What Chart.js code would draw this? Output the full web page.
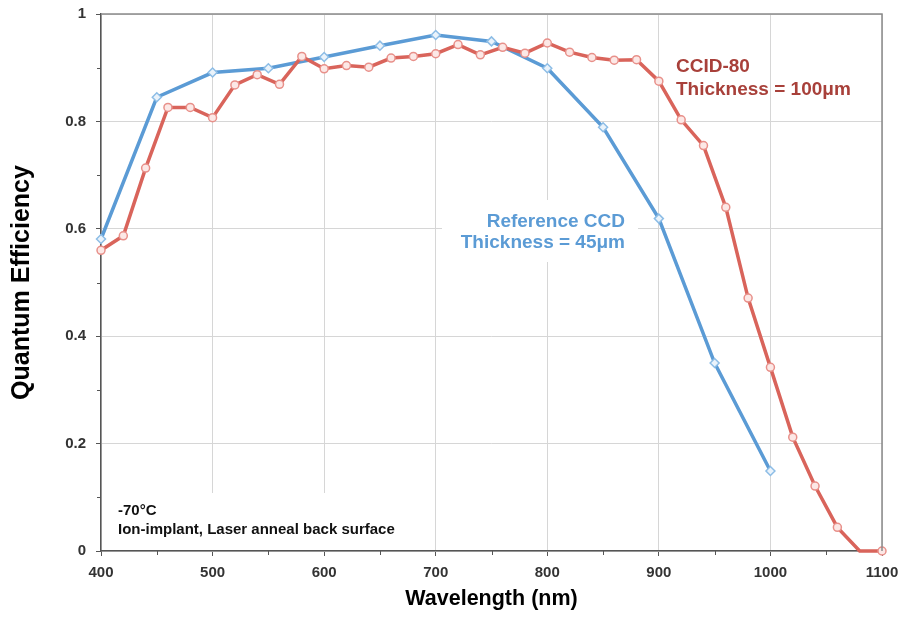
<!DOCTYPE html>
<html lang="en">
<head>
<meta charset="UTF-8">
<title>Quantum Efficiency</title>
<script src="https://cdn.jsdelivr.net/npm/chart.js@4.4.1/dist/chart.umd.min.js"></script>
<style>
  html, body { margin: 0; padding: 0; background: #fff; }
</style>
</head>
<body>
<canvas id="chart" width="901" height="619"></canvas>
<script>
// wavelengths (nm) and quantum efficiency
const refWavelength = [400, 450, 500, 550, 600, 650, 700, 750, 800, 850, 900, 950, 1000]
const refQE = [0.581, 0.845, 0.891, 0.899, 0.920, 0.941, 0.961, 0.949, 0.899, 0.789, 0.619, 0.350, 0.149]

const ccidWavelength = [400, 420, 440, 460, 480, 500, 520, 540, 560, 580, 600, 620, 640, 660, 680, 700,
  720, 740, 760, 780, 800, 820, 840, 860, 880, 900, 920, 940, 960, 980, 1000, 1020, 1040, 1060, 1080, 1100]
const ccidQE = [0.560, 0.587, 0.713, 0.826, 0.826, 0.807, 0.868, 0.887, 0.869, 0.921, 0.898, 0.904, 0.901, 0.918, 0.921, 0.926,
  0.943, 0.924, 0.938, 0.927, 0.946, 0.929, 0.919, 0.914, 0.915, 0.875, 0.803, 0.755, 0.640, 0.471, 0.342, 0.212, 0.121, 0.044, 0, 0]

const xTicks = [400, 500, 600, 700, 800, 900, 1000, 1100]
const yTicks = [0, 0.2, 0.4, 0.6, 0.8, 1]

const BLUE = '#5b9bd5'
const RED = '#d9645b'
const FONT = "'Liberation Sans', Arial, sans-serif"

const toPoints = (xs, ys) => xs.map((x, i) => ({ x: x, y: ys[i] }))

// the 1080 nm point of CCID-80 has no marker in the original
const ccidRadius = ccidWavelength.map(w => w === 1080 ? 0 : 4)

const notes = [
  { lines: ['Reference CCD', 'Thickness = 45\u03bcm'], x: 625, y: 222, align: 'right', color: BLUE, size: 19, gap: 21,
    box: [442, 200, 196, 62] },
  { lines: ['CCID-80', 'Thickness = 100\u03bcm'], x: 676, y: 67, align: 'left', color: '#a8403a', size: 19, gap: 23 },
  { lines: ['-70\u00b0C', 'Ion-implant, Laser anneal back surface'], x: 118, y: 511, align: 'left', color: '#111', size: 15, gap: 19,
    box: [110, 493, 310, 57] }
]

const decorations = {
  id: 'decorations',
  beforeDatasetsDraw(chart) {
    const ctx = chart.ctx
    ctx.save()
    ctx.fillStyle = '#fff'
    notes.forEach(n => { if (n.box) ctx.fillRect(n.box[0], n.box[1], n.box[2], n.box[3]) })
    ctx.restore()
  },
  afterDraw(chart) {
    const ctx = chart.ctx
    const a = chart.chartArea
    const xs = chart.scales.x
    const ys = chart.scales.y
    ctx.save()
    // top and right frame
    ctx.strokeStyle = '#8a8a8a'
    ctx.lineWidth = 1.5
    ctx.beginPath()
    ctx.moveTo(a.left, a.top)
    ctx.lineTo(a.right, a.top)
    ctx.lineTo(a.right, a.bottom)
    ctx.stroke()
    // minor ticks
    ctx.strokeStyle = '#555'
    ctx.lineWidth = 1
    ctx.beginPath()
    for (let v = 450; v < 1100; v += 100) {
      const px = Math.round(xs.getPixelForValue(v)) + 0.5
      ctx.moveTo(px, a.bottom)
      ctx.lineTo(px, a.bottom + 4)
    }
    for (let v = 0.1; v < 1; v += 0.2) {
      const py = Math.round(ys.getPixelForValue(v)) + 0.5
      ctx.moveTo(a.left - 4, py)
      ctx.lineTo(a.left, py)
    }
    ctx.stroke()
    // text notes
    notes.forEach(n => {
      ctx.font = 'bold ' + n.size + 'px ' + FONT
      ctx.fillStyle = n.color
      ctx.textAlign = n.align
      ctx.textBaseline = 'middle'
      n.lines.forEach((t, i) => ctx.fillText(t, n.x, n.y + i * n.gap))
    })
    ctx.restore()
  }
}

new Chart(document.getElementById('chart').getContext('2d'), {
  type: 'line',
  data: {
    datasets: [
      {
        label: 'CCID-80',
        data: toPoints(ccidWavelength, ccidQE),
        borderColor: RED,
        borderWidth: 3.5,
        pointStyle: 'circle',
        pointRadius: ccidRadius,
        pointBorderWidth: 1.5,
        pointBorderColor: '#e8908a',
        pointBackgroundColor: '#fce8e6',
        tension: 0,
        clip: false
      },
      {
        label: 'Reference CCD',
        data: toPoints(refWavelength, refQE),
        borderColor: BLUE,
        borderWidth: 3.5,
        pointStyle: 'rectRot',
        pointRadius: 4.5,
        pointBorderWidth: 1.5,
        pointBorderColor: '#8dbde6',
        pointBackgroundColor: '#eaf3fb',
        tension: 0,
        clip: false
      }
    ]
  },
  options: {
    responsive: false,
    animation: false,
    layout: { padding: { top: 14, right: 19, bottom: 0, left: 0 } },
    plugins: { legend: { display: false }, tooltip: { enabled: false } },
    scales: {
      x: {
        type: 'linear',
        min: 400,
        max: 1100,
        afterBuildTicks: s => { s.ticks = xTicks.map(v => ({ value: v })) },
        afterFit: s => { s.height = 68; s.paddingLeft = 0; s.paddingRight = 0 },
        grid: { color: '#d6d6d6', lineWidth: 1, tickLength: 5, tickColor: '#555' },
        border: { color: '#555', width: 1.5 },
        ticks: { color: '#333', font: { family: FONT, size: 15, weight: 'bold' }, padding: 8, maxRotation: 0,
          callback: v => String(v) },
        title: { display: true, text: 'Wavelength (nm)', color: '#000',
          font: { family: FONT, size: 21.5, weight: 'bold' }, padding: { top: 0, bottom: 7 } }
      },
      y: {
        min: 0,
        max: 1,
        afterBuildTicks: s => { s.ticks = yTicks.map(v => ({ value: v })) },
        afterFit: s => { s.width = 101; s.paddingTop = 0; s.paddingBottom = 0 },
        grid: { color: '#d6d6d6', lineWidth: 1, tickLength: 5, tickColor: '#555' },
        border: { color: '#555', width: 1.5 },
        ticks: { color: '#333', font: { family: FONT, size: 15, weight: 'bold' }, padding: 10,
          callback: v => String(v) },
        title: { display: true, text: 'Quantum Efficiency', color: '#000',
          font: { family: FONT, size: 25, weight: 'bold' }, padding: { top: 7, bottom: 0 } }
      }
    }
  },
  plugins: [decorations]
})
</script>
</body>
</html>
